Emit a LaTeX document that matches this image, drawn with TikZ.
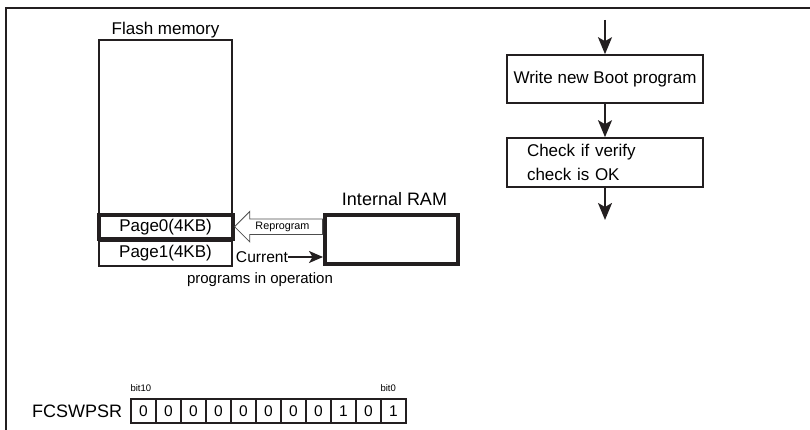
\documentclass[tikz,border=0pt]{standalone}
\usepackage{fontspec}
\setmainfont{Liberation Sans}
\usepackage{tikz}
\usetikzlibrary{positioning, calc, arrows.meta, shapes.arrows}
\definecolor{DocInk}{HTML}{231F20}
\definecolor{DocGrey}{HTML}{4D4D4D}

\begin{document}
\begin{tikzpicture}[x=1pt, y=-1pt, font=\fontsize{17}{20}\selectfont,
  memframe/.style={draw=DocInk, line width=1.6pt, inner sep=0pt},
  memthick/.style={draw=DocInk, line width=4pt, inner sep=0pt},
  flow/.style={draw=DocInk, line width=2pt, -{Stealth[length=17pt, width=14pt, inset=4pt]}},
  flowsmall/.style={draw=DocInk, line width=1.8pt, -{Stealth[length=14pt, width=12pt, inset=3.5pt]}},
  bitcell/.style={draw=DocInk, line width=1.2pt, minimum width=25pt, minimum height=24pt,
    inner sep=0pt, font=\fontsize{15.5}{15.5}\selectfont},
  bitlbl/.style={inner sep=0pt, font=\fontsize{9.5}{9.5}\selectfont}]
  \useasboundingbox (0,0) rectangle (810,430);
  \draw[DocInk, line width=2pt] (810,8.5) -- (6,8.5) -- (6,430);

  % flash memory with its two pages
  \node[memframe, minimum width=133pt, minimum height=226pt] (flash) at (165.5,153) {};
  \node[above=1pt of flash, inner sep=0pt] (flashlbl) {Flash memory};
  \node[memthick, minimum width=134pt, minimum height=24pt] (page0) at (165.6,226.7) {Page0(4KB)};
  \node[memframe, minimum width=133pt, minimum height=25.3pt] (page1) at (165.5,253.4) {Page1(4KB)};

  % internal RAM
  \node[memthick, minimum width=133pt, minimum height=49pt] (ram) at (391.5,239.5) {};
  \node[above=7pt of ram, xshift=3pt, inner sep=0pt, font=\fontsize{18}{20}\selectfont] (ramlbl) {Internal RAM};
  \node[single arrow, shape border rotate=180, draw=DocGrey, line width=0.8pt, outer sep=0pt,
        minimum height=88pt, single arrow head extend=7.5pt, inner xsep=2pt, inner ysep=2.5pt,
        font=\fontsize{10.8}{11}\selectfont, anchor=tip] (reprog) at (page0.east) {Reprogram};
  \node[inner sep=0pt, font=\fontsize{15.6}{16}\selectfont] (current) at (262,257) {Current};
  \draw[flowsmall] (current.east) -- (current.east -| ram.west);
  \node[inner sep=0pt, font=\fontsize{15}{16}\selectfont] (progop) at (260,280) {programs in operation};

  % flow of the boot rewrite
  \coordinate (flowin) at (605,20);
  \node[memframe, minimum width=196pt, minimum height=48pt] (write) at (605,79) {Write new Boot program};
  \node[memframe, minimum width=196pt, minimum height=49pt, text width=156pt, inner xsep=20pt,
        align=left, font=\fontsize{17}{24.3}\selectfont] (verify) at (605,162.5) {Check if verify\\check is OK};
  \coordinate (flowout) at (605,220);
  \draw[flow] (flowin) -- (write);
  \draw[flow] (write) -- (verify);
  \draw[flow] (verify) -- (flowout);

  % register bits
  \foreach \v [count=\i from 0] in {0,0,0,0,0,0,0,0,1,0,1}
    \node[bitcell] (bit\i) at (143.5+25*\i,411) {\v};
  \node[bitlbl, anchor=south west] (bithi) at ([yshift=7pt]bit0.north west) {bit10};
  \node[bitlbl, anchor=south west] (bitlo) at ([yshift=7pt]bit10.north west) {bit0};
  \node[left=8pt of bit0, inner sep=0pt, font=\fontsize{18}{20}\selectfont] (fcswpsr) {FCSWPSR};
\end{tikzpicture}
\end{document}
